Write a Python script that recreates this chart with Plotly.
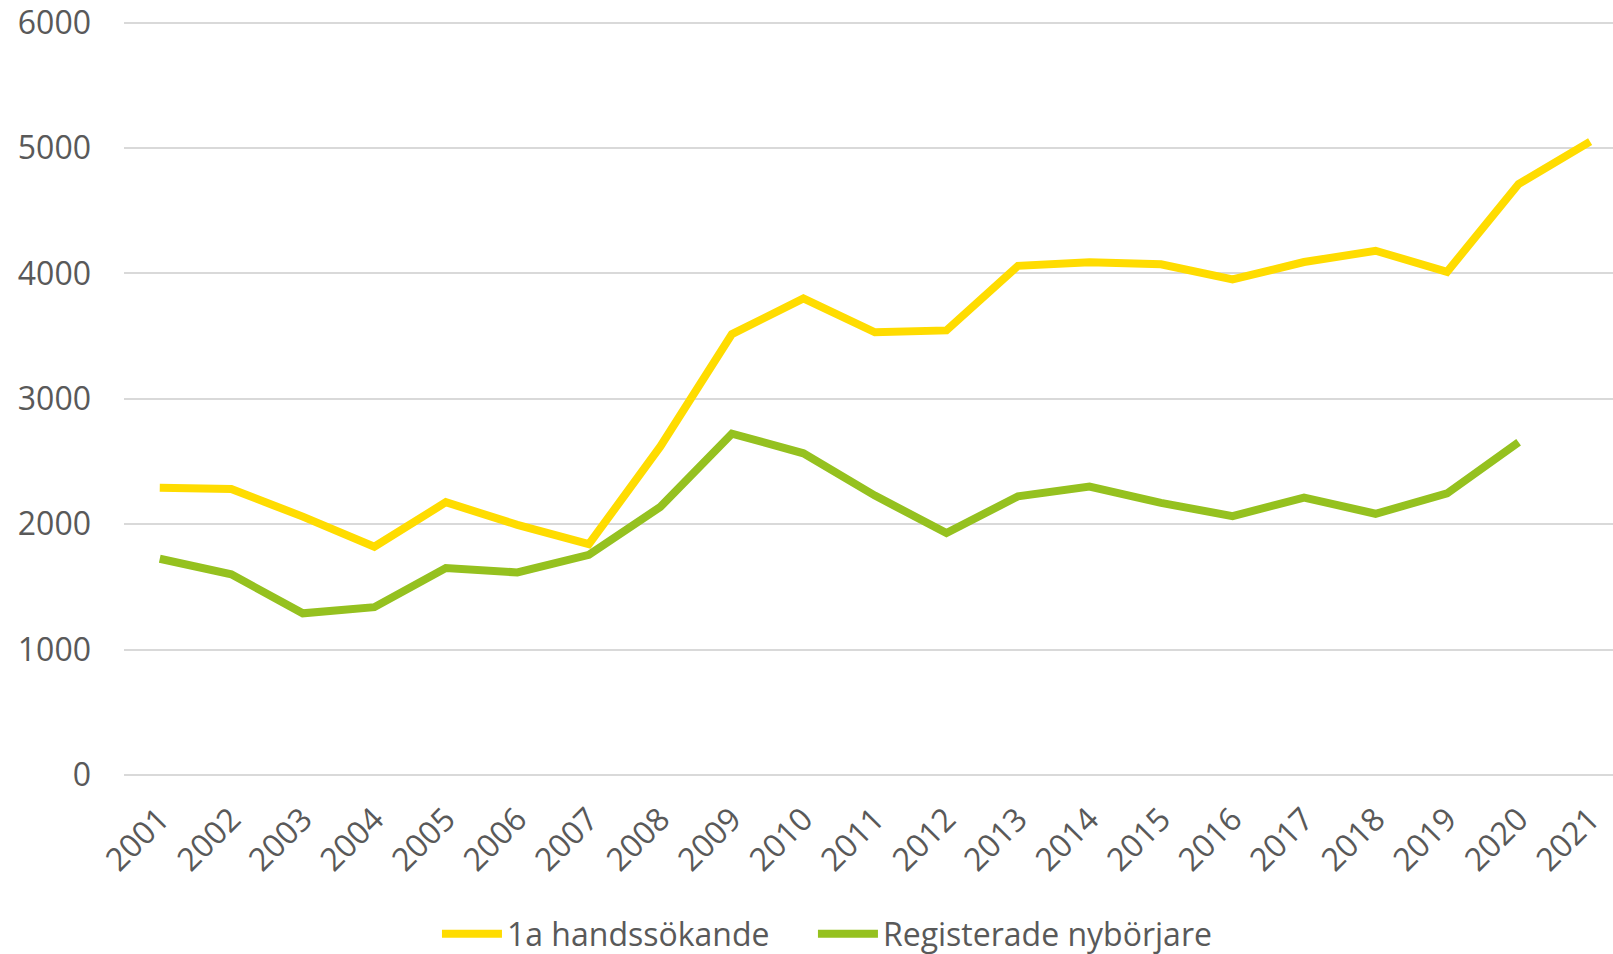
import plotly.graph_objects as go

years = [str(y) for y in range(2001, 2022)]
handssokande = [2290, 2280, 2060, 1820, 2175, 1995, 1840, 2620, 3515, 3800, 3530,
                3545, 4060, 4088, 4072, 3952, 4090, 4180, 4012, 4712, 5050]
nyborjare = [1724, 1600, 1289, 1338, 1650, 1615, 1756, 2138, 2722, 2565, 2228,
             1929, 2222, 2300, 2170, 2064, 2212, 2083, 2245, 2653]

font_family = "Open Sans"
text_color = "#595959"

W, H = 1613, 954

fig = go.Figure()
fig.add_trace(go.Scatter(x=years, y=handssokande, mode="lines", name="1a handssökande",
                         line=dict(color="#FFDC00", width=8), legend="legend"))
fig.add_trace(go.Scatter(x=years[:len(nyborjare)], y=nyborjare, mode="lines",
                         name="Registerade nybörjare",
                         line=dict(color="#95C11F", width=8), legend="legend2"))

leg_common = dict(orientation="h", xref="container", yref="container",
                  xanchor="left", yanchor="middle", y=0.021,
                  font=dict(size=32, color=text_color), itemwidth=60,
                  bgcolor="rgba(0,0,0,0)")

fig.update_layout(
    width=W, height=H,
    margin=dict(l=124, r=0, t=21, b=179, autoexpand=False),
    paper_bgcolor="white", plot_bgcolor="white",
    font=dict(family=font_family, size=32, color=text_color),
    showlegend=True,
    legend=dict(x=0.2709, **leg_common),
    legend2=dict(x=0.5040, **leg_common),
    xaxis=dict(type="category", range=[-0.5, 20.32], showgrid=False, showline=False,
               zeroline=False, tickangle=-45, ticks="", ticklabelstandoff=18,
               automargin=False, ticklabeloverflow="allow",
               tickfont=dict(size=32, color=text_color)),
    yaxis=dict(range=[0, 6012], dtick=1000, showgrid=True, gridcolor="#D9D9D9",
               gridwidth=1.5, zeroline=True, zerolinecolor="#D9D9D9", zerolinewidth=1.5,
               showline=False, ticks="", ticklabelstandoff=32, automargin=False,
               ticklabeloverflow="allow",
               tickfont=dict(size=32, color=text_color)),
)

fig.write_html("out.html", config={"displayModeBar": False},
               post_script="document.body.style.margin='0';document.body.style.overflow='hidden';")
